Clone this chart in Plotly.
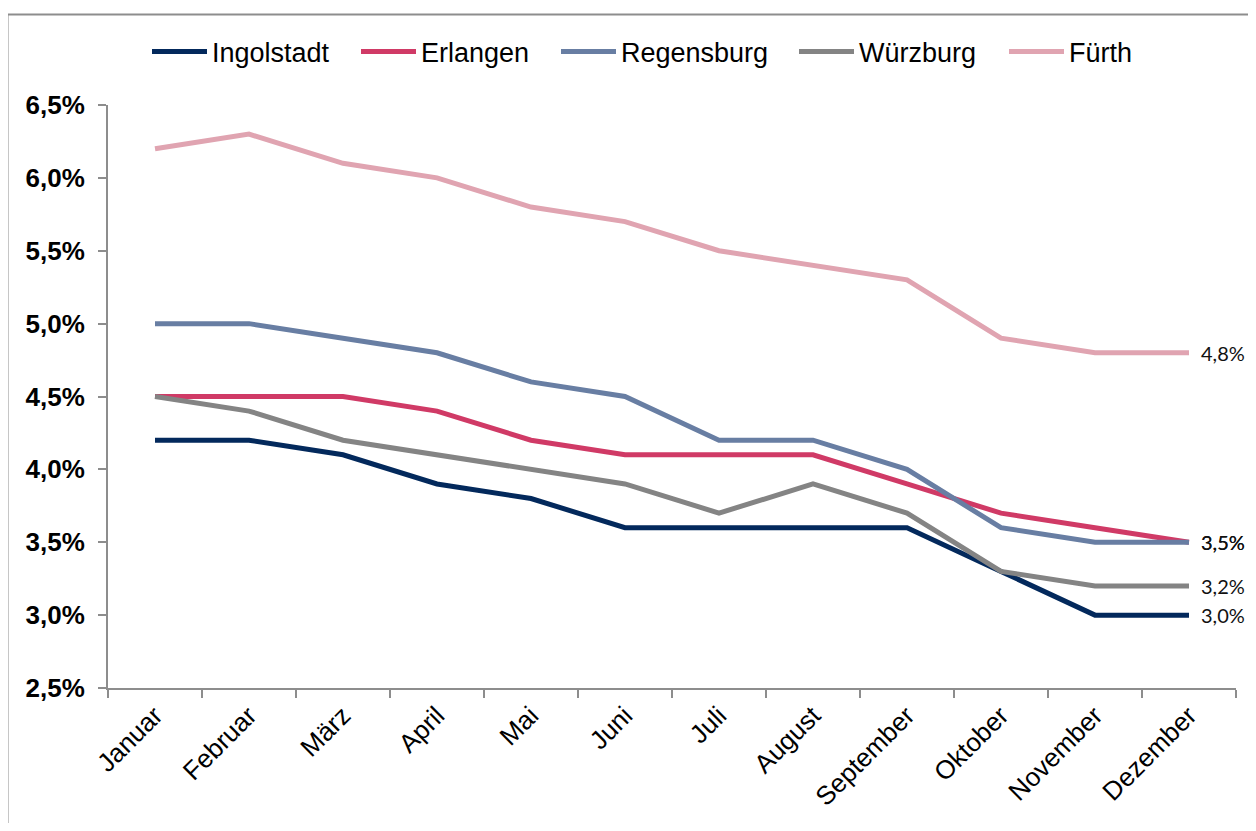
import plotly.graph_objects as go

months = ["Januar", "Februar", "März", "April", "Mai", "Juni", "Juli",
          "August", "September", "Oktober", "November", "Dezember"]

ingolstadt = [4.2, 4.2, 4.1, 3.9, 3.8, 3.6, 3.6, 3.6, 3.6, 3.3, 3.0, 3.0]
erlangen   = [4.5, 4.5, 4.5, 4.4, 4.2, 4.1, 4.1, 4.1, 3.9, 3.7, 3.6, 3.5]
regensburg = [5.0, 5.0, 4.9, 4.8, 4.6, 4.5, 4.2, 4.2, 4.0, 3.6, 3.5, 3.5]
wuerzburg  = [4.5, 4.4, 4.2, 4.1, 4.0, 3.9, 3.7, 3.9, 3.7, 3.3, 3.2, 3.2]
fuerth     = [6.2, 6.3, 6.1, 6.0, 5.8, 5.7, 5.5, 5.4, 5.3, 4.9, 4.8, 4.8]

series_names = ["Ingolstadt", "Erlangen", "Regensburg", "Würzburg", "Fürth"]
series_values = [ingolstadt, erlangen, regensburg, wuerzburg, fuerth]
series_colors = ["#03295c", "#d03a66", "#687ea3", "#848484", "#e0a4b1"]

y_ticks = [2.5, 3.0, 3.5, 4.0, 4.5, 5.0, 5.5, 6.0, 6.5]
y_tick_labels = ["2,5%", "3,0%", "3,5%", "4,0%", "4,5%", "5,0%", "5,5%", "6,0%", "6,5%"]

# page body has an 8px margin; the figure is sized to fit the window
OFF = 8
W, H = 1240, 815
ML, MR, MT, MB = 100, 12, 97, 135
PW, PH = W - ML - MR, H - MT - MB


def px(x):
    """screen x -> paper x"""
    return (x - OFF - ML) / PW


def py(y):
    """screen y -> paper y"""
    return (H - MB - (y - OFF)) / PH


fig = go.Figure()

legend_x = [153, 362, 562, 800, 1010]
for i, (name, vals, col) in enumerate(zip(series_names, series_values, series_colors)):
    lg = "legend" if i == 0 else f"legend{i + 1}"
    fig.add_trace(go.Scatter(
        x=months, y=vals, name=name, mode="lines",
        line=dict(color=col, width=5),
        legend=lg, hoverinfo="skip",
    ))

# end labels
for vals in series_values:
    fig.add_annotation(
        x=months[-1], y=vals[-1], text=f"{vals[-1]:.1f}%".replace(".", ","),
        xanchor="left", yanchor="middle", xshift=10, showarrow=False,
        font=dict(family="Lato, Carlito, sans-serif", size=20, color="#111111"),
    )

legend_layout = {}
for i, lx in enumerate(legend_x):
    key = "legend" if i == 0 else f"legend{i + 1}"
    legend_layout[key] = dict(
        x=px(lx - 6), xanchor="left", y=py(52), yanchor="middle",
        orientation="h", bgcolor="rgba(0,0,0,0)", borderwidth=0,
        itemwidth=55, tracegroupgap=0,
        font=dict(family="Arial, Liberation Sans, sans-serif", size=27, color="#000000"),
    )

# frame
shapes = [
    dict(type="rect", xref="paper", yref="paper",
         x0=px(7.5), x1=px(1270), y0=py(845), y1=py(14.5),
         fillcolor="rgba(0,0,0,0)", line=dict(color="#8d8d8d", width=2), layer="below"),
]

fig.update_layout(
    width=W, height=H,
    margin=dict(l=ML, r=MR, t=MT, b=MB, autoexpand=False),
    paper_bgcolor="#ffffff", plot_bgcolor="#ffffff",
    showlegend=True,
    shapes=shapes,
    xaxis=dict(
        type="category", range=[-0.5, 11.5],
        showgrid=False, zeroline=False,
        showline=True, linecolor="#8d8d8d", linewidth=2,
        ticks="outside", tickson="boundaries", ticklen=8, tickcolor="#8d8d8d", tickwidth=2,
        tickangle=-45,
        tickfont=dict(family="Arial, Liberation Sans, sans-serif", size=26, color="#000000"),
    ),
    yaxis=dict(
        range=[2.5, 6.5], tickvals=y_ticks, ticktext=y_tick_labels,
        showgrid=False, zeroline=False,
        showline=True, linecolor="#8d8d8d", linewidth=2,
        ticks="outside", ticklen=8, tickcolor="#8d8d8d", tickwidth=2,
        ticklabelstandoff=8,
        tickfont=dict(family="Arial, Liberation Sans, sans-serif", size=26, color="#000000",
                      weight="bold"),
    ),
    **legend_layout,
)

fig.write_html("out.html")
